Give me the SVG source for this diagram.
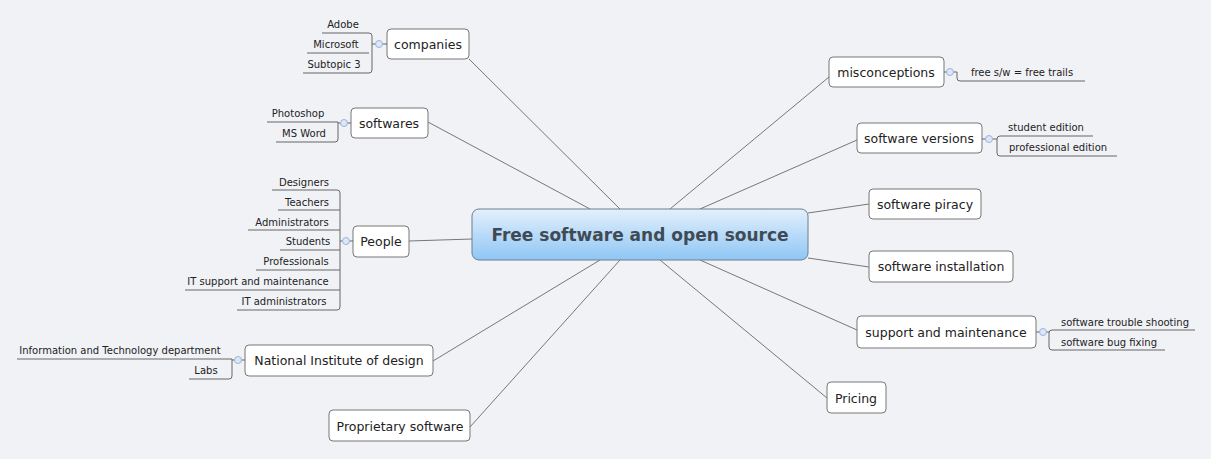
<svg xmlns="http://www.w3.org/2000/svg" width="1211" height="459" viewBox="0 0 1211 459">
<defs>
<linearGradient id="cg" x1="0" y1="0" x2="0" y2="1"><stop offset="0" stop-color="#e3f0fc"/><stop offset="1" stop-color="#8fc6f5"/></linearGradient>
<style>
.n{fill:#fff;stroke:#777;stroke-width:1}
.t{font-family:"DejaVu Sans",sans-serif;font-size:12.5px;fill:#222;text-anchor:middle}
.s{font-family:"DejaVu Sans",sans-serif;font-size:10px;fill:#222;text-anchor:middle}
.c{stroke:#777;stroke-width:1;fill:none}
.u{stroke:#666;stroke-width:1;fill:none}
.k{fill:#dbe6f7;stroke:#9bb4dc;stroke-width:1}
</style>
</defs>
<rect width="1211" height="459" fill="#f1f2f6"/>
<g id="connectors">
<path class="c" d="M469 59L620 209M428 122L590 209M409 241L472 239M433 361L600 260M470 427L620 260M829 77L670 209M857 140L700 209M869 204L808 213M869 267L808 258M857 330L700 260M827 398L660 260"/>
</g>
<g id="center"><rect x="472" y="209" width="336" height="51" rx="7" fill="url(#cg)" stroke="#6b7f92"/><text x="640" y="241" class="t" style="font-size:17px;font-weight:bold;fill:#3f4a55">Free software and open source</text></g>
<g id="companies"><rect class="n" x="387" y="29" width="82" height="30" rx="4"/><text class="t" x="428" y="49">companies</text>
<path class="u" d="M322 33H369q3 0 3 3V70q0 3-3 3H303M307 53H369"/><line class="u" x1="372" y1="44" x2="387" y2="44"/><circle class="k" cx="379" cy="44" r="3.5"/>
<text class="s" x="343" y="28">Adobe</text><text class="s" x="336" y="48">Microsoft</text><text class="s" x="334" y="68">Subtopic 3</text></g>
<g id="softwares"><rect class="n" x="351" y="108" width="77" height="30" rx="4"/><text class="t" x="389" y="128">softwares</text>
<path class="u" d="M267 122H338V139q0 3-3 3H276"/><line class="u" x1="338" y1="123" x2="351" y2="123"/><circle class="k" cx="344" cy="123" r="3.5"/>
<text class="s" x="298" y="117">Photoshop</text><text class="s" x="304" y="137">MS Word</text></g>
<g id="people"><rect class="n" x="353" y="226" width="56" height="31" rx="4"/><text class="t" x="381" y="246">People</text>
<path class="u" d="M272 190H337q3 0 3 3V307q0 3-3 3H237M278 210H340M248 230H340M280 250H340M256 270H340M185 290H340"/><line class="u" x1="340" y1="241" x2="353" y2="241"/><circle class="k" cx="346" cy="241" r="3.5"/>
<text class="s" x="304" y="186">Designers</text><text class="s" x="307" y="206">Teachers</text><text class="s" x="292" y="226">Administrators</text><text class="s" x="308" y="245">Students</text><text class="s" x="296" y="265">Professionals</text><text class="s" x="258" y="285">IT support and maintenance</text><text class="s" x="284" y="305">IT administrators</text></g>
<g id="nid"><rect class="n" x="245" y="345" width="188" height="31" rx="4"/><text class="t" x="339" y="365">National Institute of design</text>
<path class="u" d="M17 359H232V376q0 3-3 3H189"/><line class="u" x1="232" y1="360" x2="245" y2="360"/><circle class="k" cx="238" cy="360" r="3.5"/>
<text class="s" x="120" y="354">Information and Technology department</text><text class="s" x="206" y="374">Labs</text></g>
<g id="proprietary"><rect class="n" x="329" y="410" width="141" height="31" rx="4"/><text class="t" x="400" y="431">Proprietary software</text></g>
<g id="misconceptions"><rect class="n" x="829" y="57" width="115" height="30" rx="4"/><text class="t" x="886" y="77">misconceptions</text>
<line class="u" x1="944" y1="72" x2="957" y2="72"/><path class="u" d="M957 72V78q0 3 3 3H1085"/><circle class="k" cx="950" cy="72" r="3.5"/>
<text class="s" x="1022" y="76">free s/w = free trails</text></g>
<g id="versions"><rect class="n" x="857" y="123" width="125" height="30" rx="4"/><text class="t" x="919" y="143">software versions</text>
<line class="u" x1="982" y1="139" x2="997" y2="139"/><path class="u" d="M1093 136H1000q-3 0-3 3V153q0 3 3 3H1117"/><circle class="k" cx="989" cy="139" r="3.5"/>
<text class="s" x="1046" y="131">student edition</text><text class="s" x="1058" y="151">professional edition</text></g>
<g id="piracy"><rect class="n" x="869" y="189" width="112" height="30" rx="4"/><text class="t" x="925" y="209">software piracy</text></g>
<g id="installation"><rect class="n" x="869" y="251" width="144" height="31" rx="4"/><text class="t" x="941" y="271">software installation</text></g>
<g id="support"><rect class="n" x="857" y="316" width="179" height="32" rx="4"/><text class="t" x="946" y="337">support and maintenance</text>
<line class="u" x1="1036" y1="332" x2="1049" y2="332"/><path class="u" d="M1195 330H1052q-3 0-3 3V347q0 3 3 3H1165"/><circle class="k" cx="1043" cy="332" r="3.5"/>
<text class="s" x="1125" y="326">software trouble shooting</text><text class="s" x="1109" y="346">software bug fixing</text></g>
<g id="pricing"><rect class="n" x="827" y="382" width="59" height="31" rx="4"/><text class="t" x="856" y="403">Pricing</text></g>
</svg>
